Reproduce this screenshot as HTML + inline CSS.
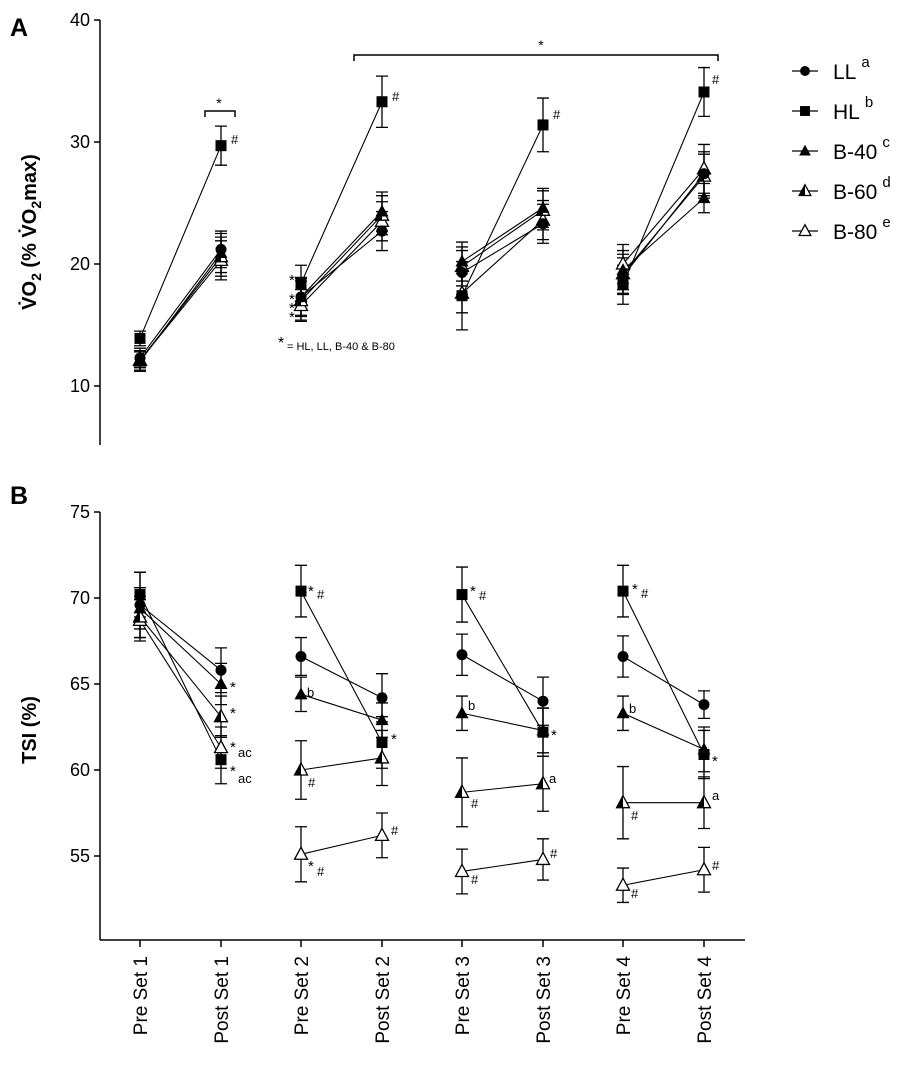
<!DOCTYPE html>
<html><head><meta charset="utf-8"><style>
body{margin:0;background:#fff}
svg{display:block;font-family:"Liberation Sans",Arial,sans-serif}
</style></head><body>
<svg id="s" width="918" height="1074" viewBox="0 0 918 1074" xmlns="http://www.w3.org/2000/svg">
<text x="10" y="36" font-size="25" font-weight="bold">A</text>
<text x="10" y="504" font-size="25" font-weight="bold">B</text>
<g stroke="#000" stroke-width="1.5" fill="none">
<line x1="100" y1="20" x2="100" y2="445"/>
<line x1="100" y1="512" x2="100" y2="940"/>
<line x1="100" y1="940" x2="745" y2="940"/>
<path d="M205 117 V111 H235 V117"/>
<path d="M354 61 V55 H718 V61"/>
</g>
<g font-size="18" text-anchor="end">
<text x="90" y="26">40</text><text x="90" y="148">30</text><text x="90" y="270">20</text><text x="90" y="392">10</text>
<text x="90" y="518">75</text><text x="90" y="604">70</text><text x="90" y="690">65</text><text x="90" y="776">60</text><text x="90" y="862">55</text>
</g>
<text font-size="14" x="219" y="108" text-anchor="middle">*</text>
<text font-size="14" x="541" y="50" text-anchor="middle">*</text>
<text transform="translate(36,232) rotate(-90)" font-size="20" font-weight="bold" text-anchor="middle">V̇O<tspan font-size="14" dy="5">2</tspan><tspan dy="-5"> (% V̇O</tspan><tspan font-size="14" dy="5">2</tspan><tspan dy="-5">max)</tspan></text>
<text transform="translate(36,730) rotate(-90)" font-size="20" font-weight="bold" text-anchor="middle">TSI (%)</text>
<text x="278" y="348" font-size="16">*</text><text x="287" y="350" font-size="11">= HL, LL, B-40 &amp; B-80</text>
<g id="g"></g>
</svg>
<script>
var g=document.getElementById('g'),NS='http://www.w3.org/2000/svg';
function el(t,a,txt){var e=document.createElementNS(NS,t);for(var k in a)e.setAttribute(k,a[k]);if(txt)e.textContent=txt;g.appendChild(e);return e;}
var X=[140,221,301,382,462,543,623,704];
var labs=['Pre Set 1','Post Set 1','Pre Set 2','Post Set 2','Pre Set 3','Post Set 3','Pre Set 4','Post Set 4'];
X.forEach(function(x,i){el('line',{x1:x,y1:940,x2:x,y2:947,stroke:'#000','stroke-width':1.5});
el('text',{transform:'translate('+(x+7)+',956) rotate(-90)','font-size':19,'text-anchor':'end'},labs[i]);});
[20,142,264,386].forEach(function(y){el('line',{x1:94,y1:y,x2:100,y2:y,stroke:'#000','stroke-width':1.5});});
[512,598,684,770,856].forEach(function(y){el('line',{x1:94,y1:y,x2:100,y2:y,stroke:'#000','stroke-width':1.5});});
function marker(t,x,y,s){s=s||1;
 if(t==0)el('circle',{cx:x,cy:y,r:5.5*s,fill:'#000'});
 else if(t==1)el('rect',{x:x-5.5*s,y:y-5.5*s,width:11*s,height:11*s,fill:'#000'});
 else{var p=(x)+','+(y-7*s)+' '+(x-6.5*s)+','+(y+5*s)+' '+(x+6.5*s)+','+(y+5*s);
  if(t==2)el('polygon',{points:p,fill:'#000'});
  else if(t==3){el('polygon',{points:p,fill:'#fff',stroke:'#000','stroke-width':1.3});el('polygon',{points:x+','+(y-7*s)+' '+(x-6.5*s)+','+(y+5*s)+' '+x+','+(y+5*s),fill:'#000'});}
  else el('polygon',{points:p,fill:'#fff',stroke:'#000','stroke-width':1.3});}}
var yA=function(v){return 20+(40-v)*12.2;}, yB=function(v){return 512+(75-v)*17.2;};
var A=[[12.3,21.2,17.3,22.7,19.3,23.3,19.0,27.4],
[13.9,29.7,18.4,33.3,17.4,31.4,18.3,34.1],
[12.0,20.9,17.3,24.3,20.2,24.6,19.5,25.4],
[12.1,20.6,17.0,24.0,19.8,24.4,19.2,27.2],
[12.1,20.3,16.6,23.5,17.6,23.6,20.0,27.8]];
var eA=[[0.8,1.5,1.5,1.6,1.8,1.6,1.5,1.8],[0.6,1.6,1.5,2.1,2.8,2.2,1.6,2.0],[0.8,1.6,1.6,1.6,1.6,1.6,1.6,1.2],[0.8,1.6,1.6,1.6,1.6,1.6,1.6,1.8],[0.8,1.6,1.3,1.6,1.6,1.6,1.6,2.0]];
var B=[[69.6,65.8,66.6,64.2,66.7,64.0,66.6,63.8],
[70.2,60.6,70.4,61.6,70.2,62.2,70.4,60.9],
[69.4,65.0,64.4,62.9,63.3,62.3,63.3,61.2],
[68.9,63.1,60.0,60.7,58.7,59.2,58.1,58.1],
[68.7,61.3,55.1,56.2,54.1,54.8,53.3,54.2]];
var eB=[[1.9,1.3,1.1,1.4,1.2,1.4,1.2,0.8],[1.3,1.4,1.5,1.5,1.6,1.4,1.5,1.4],[1.2,1.2,1.0,1.0,1.0,1.3,1.0,1.3],[1.2,1.2,1.7,1.6,2.0,1.6,2.1,1.5],[1.2,1.2,1.6,1.3,1.3,1.2,1.0,1.3]];
function panel(D,E,f){
 for(var s=0;s<5;s++){for(var k=0;k<4;k++){var i=2*k;el('line',{x1:X[i],y1:f(D[s][i]),x2:X[i+1],y2:f(D[s][i+1]),stroke:'#000','stroke-width':1.1});}}
 for(var s=0;s<5;s++)for(var i=0;i<8;i++){var x=X[i],a=f(D[s][i]+E[s][i]),b=f(D[s][i]-E[s][i]);
  el('path',{d:'M'+x+' '+a+'V'+b+'M'+(x-6)+' '+a+'H'+(x+6)+'M'+(x-6)+' '+b+'H'+(x+6),stroke:'#000','stroke-width':1.3,fill:'none'});}
 for(var s=4;s>=0;s--)for(var i=0;i<8;i++)marker(s,X[i],f(D[s][i]));
}
panel(A,eA,yA);panel(B,eB,yB);
function t(x,y,s,fs){el('text',{x:x,y:y,'font-size':fs||13},s);}
t(231,144,'#');t(392,101,'#');t(553,119,'#');t(712,84,'#');
t(289,285,'*',15);t(289,304,'*',15);t(289,313,'*',15);t(289,322,'*',15);
// Panel B annotations
t(230,692,'*',15);t(230,718,'*',15);t(230,752,'*',15);t(238,757,'ac',13);t(230,776,'*',15);t(238,783,'ac',13);
t(308,596,'*',15);t(317,599,'#');t(307,697,'b',13);t(391,744,'*',15);t(308,787,'#');t(308,871,'*',15);t(317,876,'#');t(391,835,'#');
t(470,596,'*',15);t(479,600,'#');t(468,710,'b',13);t(551,740,'*',15);t(471,808,'#');t(549,783,'a',13);t(471,884,'#');t(550,858,'#');
t(632,594,'*',15);t(641,598,'#');t(629,713,'b',13);t(712,766,'*',15);t(631,820,'#');t(712,800,'a',13);t(631,898,'#');t(712,870,'#');
var L=[['LL','a'],['HL','b'],['B-40','c'],['B-60','d'],['B-80','e']];
L.forEach(function(l,i){var y=71+40*i;el('line',{x1:792,y1:y,x2:818,y2:y,stroke:'#000','stroke-width':1.3});marker(i,805,y,0.9);
 var tx=el('text',{x:833,y:y+8,'font-size':21},l[0]);var ts=document.createElementNS(NS,'tspan');ts.setAttribute('font-size',15);ts.setAttribute('dy',-12);ts.setAttribute('dx',5);ts.textContent=l[1];tx.appendChild(ts);});
</script>
</body></html>
